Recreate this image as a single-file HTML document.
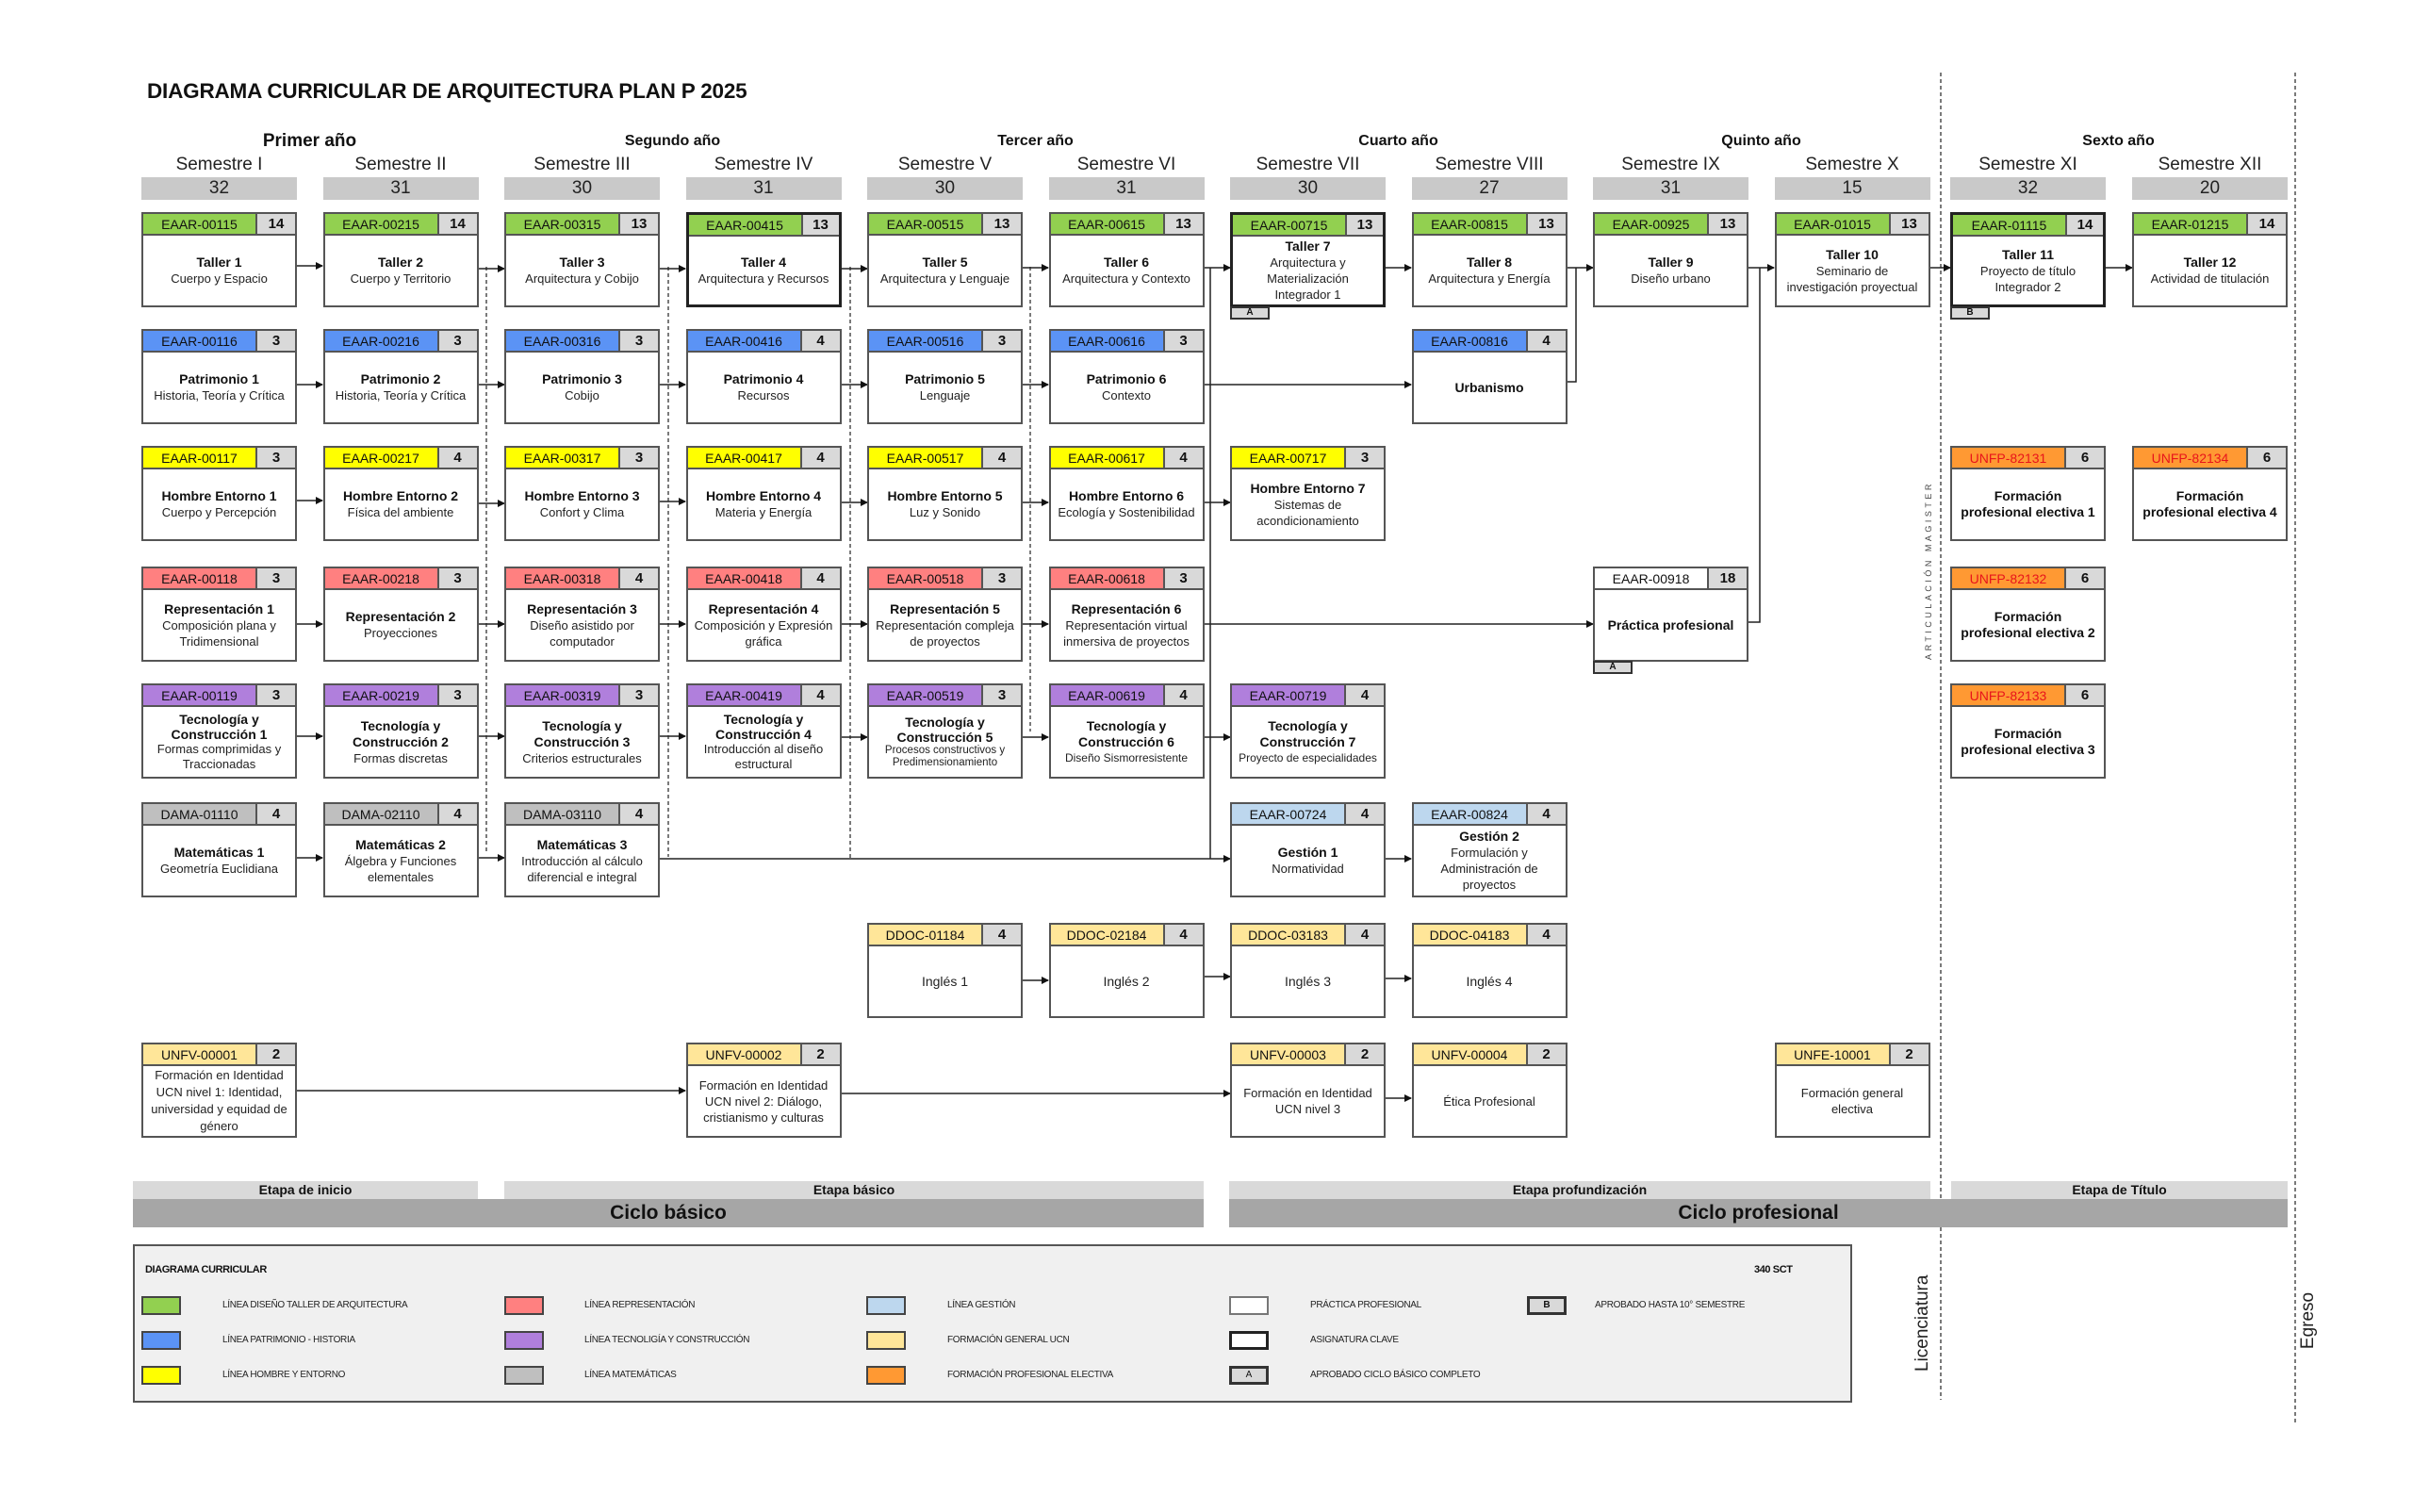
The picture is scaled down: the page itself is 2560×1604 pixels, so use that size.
<!DOCTYPE html>
<html><head><meta charset="utf-8">
<style>
*{margin:0;padding:0;box-sizing:border-box}
body{width:2560px;height:1604px;background:#fff;position:relative;font-family:"Liberation Sans",sans-serif;color:#111;overflow:hidden}
.a{position:absolute}
.b{position:absolute;width:165px;height:101px;border:2px solid #555;background:#fff}
.b.k{border:3px solid #222}
.h{height:23px;display:flex;border-bottom:2px solid #555;font-size:14px}
.h .c{width:121px;border-right:2px solid #555;text-align:center;line-height:22px}
.h .n{flex:1;background:#d9d9d9;text-align:center;font-weight:bold;line-height:21px;font-size:15px}
.bd{height:74px;display:flex;flex-direction:column;justify-content:center;align-items:center;text-align:center;font-size:13px;line-height:17px;color:#222;padding:0 2px}
.bd b{font-size:14px;color:#111}
.k .bd{height:72px}
.g{background:#92d050}.bl{background:#5b93f5}.y{background:#ffff00}.r{background:#ff8080}.p{background:#b07fdc}.m{background:#bfbfbf}.lb{background:#bdd7ee}.ly{background:#ffe699}.o{background:#ff9933;color:#e8141b}.w{background:#fff}
.yr{position:absolute;top:141px;font-weight:bold;font-size:16px;text-align:center;width:357px}
.sm{position:absolute;top:164px;width:165px;text-align:center;font-size:19px;color:#222}
.nb{position:absolute;top:188px;height:24px;width:165px;background:#c9c9c9;text-align:center;font-size:19px;line-height:24px;color:#222}
.tag{position:absolute;width:42px;height:14px;background:#d9d9d9;border:2px solid #333;font-size:10px;font-weight:bold;text-align:center;line-height:10px}
.et{position:absolute;top:1253px;height:19px;background:#d9d9d9;font-weight:bold;font-size:14px;text-align:center;line-height:19px}
.cy{position:absolute;top:1272px;height:30px;background:#a6a6a6;font-weight:bold;font-size:21px;text-align:center;line-height:30px}
.sw{position:absolute;width:42px;height:20px;border:2px solid #444}
.lt{position:absolute;font-size:10px;letter-spacing:-0.3px;color:#222;line-height:20px}
</style></head><body>
<div class="a" style="left:156px;top:84px;font-size:22.5px;font-weight:bold;letter-spacing:-0.2px">DIAGRAMA CURRICULAR DE ARQUITECTURA PLAN P 2025</div>

<div class="yr" style="left:150px;font-size:19px;top:139px">Primer año</div>
<div class="yr" style="left:535px">Segundo año</div>
<div class="yr" style="left:920px">Tercer año</div>
<div class="yr" style="left:1305px">Cuarto año</div>
<div class="yr" style="left:1690px">Quinto año</div>
<div class="yr" style="left:2069px">Sexto año</div>

<div class="sm" style="left:150px">Semestre I</div><div class="nb" style="left:150px">32</div>
<div class="sm" style="left:342.5px">Semestre II</div><div class="nb" style="left:342.5px">31</div>
<div class="sm" style="left:535px">Semestre III</div><div class="nb" style="left:535px">30</div>
<div class="sm" style="left:727.5px">Semestre IV</div><div class="nb" style="left:727.5px">31</div>
<div class="sm" style="left:920px">Semestre V</div><div class="nb" style="left:920px">30</div>
<div class="sm" style="left:1112.5px">Semestre VI</div><div class="nb" style="left:1112.5px">31</div>
<div class="sm" style="left:1305px">Semestre VII</div><div class="nb" style="left:1305px">30</div>
<div class="sm" style="left:1497.5px">Semestre VIII</div><div class="nb" style="left:1497.5px">27</div>
<div class="sm" style="left:1690px">Semestre IX</div><div class="nb" style="left:1690px">31</div>
<div class="sm" style="left:1882.5px">Semestre X</div><div class="nb" style="left:1882.5px">15</div>
<div class="sm" style="left:2069px">Semestre XI</div><div class="nb" style="left:2069px">32</div>
<div class="sm" style="left:2262px">Semestre XII</div><div class="nb" style="left:2262px">20</div>

<svg class="a" style="left:0;top:0" width="2560" height="1604">
<defs><marker id="ar" markerWidth="8" markerHeight="8" refX="7" refY="4" orient="auto" markerUnits="userSpaceOnUse"><path d="M0,0L8,4L0,8z" fill="#111"/></marker></defs>
<g stroke="#333" stroke-width="1.3" fill="none" stroke-dasharray="4,3">
<line x1="516" y1="283" x2="516" y2="905"/>
<line x1="709" y1="283" x2="709" y2="909"/>
<line x1="902" y1="283" x2="902" y2="911"/>
<line x1="1093" y1="283" x2="1093" y2="776"/>
<line x1="2059" y1="77" x2="2059" y2="1485"/>
<line x1="2435" y1="77" x2="2435" y2="1510"/>
</g>
<g stroke="#222" stroke-width="1.5" fill="none" marker-end="url(#ar)">
<line x1="315" y1="282" x2="342" y2="282"/><line x1="507" y1="285" x2="535" y2="285"/><line x1="700" y1="285" x2="727" y2="285"/><line x1="892" y1="285" x2="920" y2="285"/><line x1="1085" y1="284" x2="1112" y2="284"/><line x1="1277" y1="284" x2="1305" y2="284"/><line x1="1470" y1="284" x2="1497" y2="284"/><line x1="1662" y1="284" x2="1690" y2="284"/><line x1="1855" y1="284" x2="1882" y2="284"/><line x1="2047" y1="284" x2="2069" y2="284"/><line x1="2234" y1="284" x2="2262" y2="284"/>
<line x1="315" y1="408" x2="342" y2="408"/><line x1="507" y1="408" x2="535" y2="408"/><line x1="700" y1="408" x2="727" y2="408"/><line x1="892" y1="408" x2="920" y2="408"/><line x1="1085" y1="408" x2="1112" y2="408"/><line x1="1277" y1="408" x2="1497" y2="408"/>
<line x1="315" y1="531" x2="342" y2="531"/><line x1="507" y1="534" x2="535" y2="534"/><line x1="700" y1="532" x2="727" y2="532"/><line x1="892" y1="533" x2="920" y2="533"/><line x1="1085" y1="533" x2="1112" y2="533"/><line x1="1277" y1="533" x2="1305" y2="533"/>
<line x1="315" y1="662" x2="342" y2="662"/><line x1="507" y1="662" x2="535" y2="662"/><line x1="700" y1="662" x2="727" y2="662"/><line x1="892" y1="662" x2="920" y2="662"/><line x1="1085" y1="662" x2="1112" y2="662"/><line x1="1277" y1="662" x2="1690" y2="662"/>
<line x1="315" y1="781" x2="342" y2="781"/><line x1="507" y1="781" x2="535" y2="781"/><line x1="700" y1="781" x2="727" y2="781"/><line x1="892" y1="782" x2="920" y2="782"/><line x1="1085" y1="782" x2="1112" y2="782"/><line x1="1277" y1="782" x2="1305" y2="782"/>
<line x1="315" y1="910" x2="342" y2="910"/><line x1="507" y1="910" x2="535" y2="910"/><line x1="700" y1="911" x2="1305" y2="911"/><line x1="1470" y1="911" x2="1497" y2="911"/>
<line x1="1085" y1="1040" x2="1112" y2="1040"/><line x1="1277" y1="1036" x2="1305" y2="1036"/><line x1="1470" y1="1038" x2="1497" y2="1038"/>
<line x1="315" y1="1157" x2="727" y2="1157"/><line x1="892" y1="1160" x2="1305" y2="1160"/><line x1="1470" y1="1165" x2="1497" y2="1165"/>
</g>
<g stroke="#222" stroke-width="1.5" fill="none">
<line x1="1284" y1="284" x2="1284" y2="911"/>
<polyline points="1662,405 1672,405 1672,284"/>
<polyline points="1855,660 1867,660 1867,284"/>
</g>
</svg>

<!-- Row 1 -->
<div class="b" style="left:150px;top:225px"><div class="h"><div class="c g">EAAR-00115</div><div class="n">14</div></div><div class="bd"><b>Taller 1</b>Cuerpo y Espacio</div></div>
<div class="b" style="left:342.5px;top:225px"><div class="h"><div class="c g">EAAR-00215</div><div class="n">14</div></div><div class="bd"><b>Taller 2</b>Cuerpo y Territorio</div></div>
<div class="b" style="left:535px;top:225px"><div class="h"><div class="c g">EAAR-00315</div><div class="n">13</div></div><div class="bd"><b>Taller 3</b>Arquitectura y Cobijo</div></div>
<div class="b k" style="left:727.5px;top:225px"><div class="h"><div class="c g">EAAR-00415</div><div class="n">13</div></div><div class="bd"><b>Taller 4</b>Arquitectura y Recursos</div></div>
<div class="b" style="left:920px;top:225px"><div class="h"><div class="c g">EAAR-00515</div><div class="n">13</div></div><div class="bd"><b>Taller 5</b>Arquitectura y Lenguaje</div></div>
<div class="b" style="left:1112.5px;top:225px"><div class="h"><div class="c g">EAAR-00615</div><div class="n">13</div></div><div class="bd"><b>Taller 6</b>Arquitectura y Contexto</div></div>
<div class="b k" style="left:1305px;top:225px"><div class="h"><div class="c g">EAAR-00715</div><div class="n">13</div></div><div class="bd"><b>Taller 7</b>Arquitectura y<br>Materialización<br>Integrador 1</div></div>
<div class="tag" style="left:1305px;top:325px">A</div>
<div class="b" style="left:1497.5px;top:225px"><div class="h"><div class="c g">EAAR-00815</div><div class="n">13</div></div><div class="bd"><b>Taller 8</b>Arquitectura y Energía</div></div>
<div class="b" style="left:1690px;top:225px"><div class="h"><div class="c g">EAAR-00925</div><div class="n">13</div></div><div class="bd"><b>Taller 9</b>Diseño urbano</div></div>
<div class="b" style="left:1882.5px;top:225px"><div class="h"><div class="c g">EAAR-01015</div><div class="n">13</div></div><div class="bd"><b>Taller 10</b>Seminario de<br>investigación proyectual</div></div>
<div class="b k" style="left:2069px;top:225px"><div class="h"><div class="c g">EAAR-01115</div><div class="n">14</div></div><div class="bd"><b>Taller 11</b>Proyecto de título<br>Integrador 2</div></div>
<div class="tag" style="left:2069px;top:325px">B</div>
<div class="b" style="left:2262px;top:225px"><div class="h"><div class="c g">EAAR-01215</div><div class="n">14</div></div><div class="bd"><b>Taller 12</b>Actividad de titulación</div></div>

<!-- Row 2 -->
<div class="b" style="left:150px;top:349px"><div class="h"><div class="c bl">EAAR-00116</div><div class="n">3</div></div><div class="bd"><b>Patrimonio 1</b>Historia, Teoría y Crítica</div></div>
<div class="b" style="left:342.5px;top:349px"><div class="h"><div class="c bl">EAAR-00216</div><div class="n">3</div></div><div class="bd"><b>Patrimonio 2</b>Historia, Teoría y Crítica</div></div>
<div class="b" style="left:535px;top:349px"><div class="h"><div class="c bl">EAAR-00316</div><div class="n">3</div></div><div class="bd"><b>Patrimonio 3</b>Cobijo</div></div>
<div class="b" style="left:727.5px;top:349px"><div class="h"><div class="c bl">EAAR-00416</div><div class="n">4</div></div><div class="bd"><b>Patrimonio 4</b>Recursos</div></div>
<div class="b" style="left:920px;top:349px"><div class="h"><div class="c bl">EAAR-00516</div><div class="n">3</div></div><div class="bd"><b>Patrimonio 5</b>Lenguaje</div></div>
<div class="b" style="left:1112.5px;top:349px"><div class="h"><div class="c bl">EAAR-00616</div><div class="n">3</div></div><div class="bd"><b>Patrimonio 6</b>Contexto</div></div>
<div class="b" style="left:1497.5px;top:349px"><div class="h"><div class="c bl">EAAR-00816</div><div class="n">4</div></div><div class="bd"><b>Urbanismo</b></div></div>

<!-- Row 3 -->
<div class="b" style="left:150px;top:473px"><div class="h"><div class="c y">EAAR-00117</div><div class="n">3</div></div><div class="bd"><b>Hombre Entorno 1</b>Cuerpo y Percepción</div></div>
<div class="b" style="left:342.5px;top:473px"><div class="h"><div class="c y">EAAR-00217</div><div class="n">4</div></div><div class="bd"><b>Hombre Entorno 2</b>Física del ambiente</div></div>
<div class="b" style="left:535px;top:473px"><div class="h"><div class="c y">EAAR-00317</div><div class="n">3</div></div><div class="bd"><b>Hombre Entorno 3</b>Confort y Clima</div></div>
<div class="b" style="left:727.5px;top:473px"><div class="h"><div class="c y">EAAR-00417</div><div class="n">4</div></div><div class="bd"><b>Hombre Entorno 4</b>Materia y Energía</div></div>
<div class="b" style="left:920px;top:473px"><div class="h"><div class="c y">EAAR-00517</div><div class="n">4</div></div><div class="bd"><b>Hombre Entorno 5</b>Luz y Sonido</div></div>
<div class="b" style="left:1112.5px;top:473px"><div class="h"><div class="c y">EAAR-00617</div><div class="n">4</div></div><div class="bd"><b>Hombre Entorno 6</b>Ecología y Sostenibilidad</div></div>
<div class="b" style="left:1305px;top:473px"><div class="h"><div class="c y">EAAR-00717</div><div class="n">3</div></div><div class="bd"><b>Hombre Entorno 7</b>Sistemas de<br>acondicionamiento</div></div>
<div class="b" style="left:2069px;top:473px"><div class="h"><div class="c o">UNFP-82131</div><div class="n">6</div></div><div class="bd"><b>Formación<br>profesional electiva 1</b></div></div>
<div class="b" style="left:2262px;top:473px"><div class="h"><div class="c o">UNFP-82134</div><div class="n">6</div></div><div class="bd"><b>Formación<br>profesional electiva 4</b></div></div>

<!-- Row 4 -->
<div class="b" style="left:150px;top:601px"><div class="h"><div class="c r">EAAR-00118</div><div class="n">3</div></div><div class="bd"><b>Representación 1</b>Composición plana y<br>Tridimensional</div></div>
<div class="b" style="left:342.5px;top:601px"><div class="h"><div class="c r">EAAR-00218</div><div class="n">3</div></div><div class="bd"><b>Representación 2</b>Proyecciones</div></div>
<div class="b" style="left:535px;top:601px"><div class="h"><div class="c r">EAAR-00318</div><div class="n">4</div></div><div class="bd"><b>Representación 3</b>Diseño asistido por<br>computador</div></div>
<div class="b" style="left:727.5px;top:601px"><div class="h"><div class="c r">EAAR-00418</div><div class="n">4</div></div><div class="bd"><b>Representación 4</b>Composición y Expresión<br>gráfica</div></div>
<div class="b" style="left:920px;top:601px"><div class="h"><div class="c r">EAAR-00518</div><div class="n">3</div></div><div class="bd"><b>Representación 5</b>Representación compleja<br>de proyectos</div></div>
<div class="b" style="left:1112.5px;top:601px"><div class="h"><div class="c r">EAAR-00618</div><div class="n">3</div></div><div class="bd"><b>Representación 6</b>Representación virtual<br>inmersiva de proyectos</div></div>
<div class="b" style="left:1690px;top:601px"><div class="h"><div class="c w">EAAR-00918</div><div class="n">18</div></div><div class="bd"><b>Práctica profesional</b></div></div>
<div class="tag" style="left:1690px;top:701px">A</div>
<div class="b" style="left:2069px;top:601px"><div class="h"><div class="c o">UNFP-82132</div><div class="n">6</div></div><div class="bd"><b>Formación<br>profesional electiva 2</b></div></div>

<!-- Row 5 -->
<div class="b" style="left:150px;top:725px"><div class="h"><div class="c p">EAAR-00119</div><div class="n">3</div></div><div class="bd" style="line-height:16px"><b>Tecnología y<br>Construcción 1</b>Formas comprimidas y<br>Traccionadas</div></div>
<div class="b" style="left:342.5px;top:725px"><div class="h"><div class="c p">EAAR-00219</div><div class="n">3</div></div><div class="bd"><b>Tecnología y<br>Construcción 2</b>Formas discretas</div></div>
<div class="b" style="left:535px;top:725px"><div class="h"><div class="c p">EAAR-00319</div><div class="n">3</div></div><div class="bd"><b>Tecnología y<br>Construcción 3</b>Criterios estructurales</div></div>
<div class="b" style="left:727.5px;top:725px"><div class="h"><div class="c p">EAAR-00419</div><div class="n">4</div></div><div class="bd" style="line-height:16px"><b>Tecnología y<br>Construcción 4</b>Introducción al diseño<br>estructural</div></div>
<div class="b" style="left:920px;top:725px"><div class="h"><div class="c p">EAAR-00519</div><div class="n">3</div></div><div class="bd" style="line-height:16px"><b>Tecnología y<br>Construcción 5</b><span style="font-size:11.5px;line-height:13px">Procesos constructivos y<br>Predimensionamiento</span></div></div>
<div class="b" style="left:1112.5px;top:725px"><div class="h"><div class="c p">EAAR-00619</div><div class="n">4</div></div><div class="bd"><b>Tecnología y<br>Construcción 6</b><span style="font-size:12px">Diseño Sismorresistente</span></div></div>
<div class="b" style="left:1305px;top:725px"><div class="h"><div class="c p">EAAR-00719</div><div class="n">4</div></div><div class="bd"><b>Tecnología y<br>Construcción 7</b><span style="font-size:12px">Proyecto de especialidades</span></div></div>
<div class="b" style="left:2069px;top:725px"><div class="h"><div class="c o">UNFP-82133</div><div class="n">6</div></div><div class="bd"><b>Formación<br>profesional electiva 3</b></div></div>

<!-- Row 6 -->
<div class="b" style="left:150px;top:851px"><div class="h"><div class="c m">DAMA-01110</div><div class="n">4</div></div><div class="bd"><b>Matemáticas 1</b>Geometría Euclidiana</div></div>
<div class="b" style="left:342.5px;top:851px"><div class="h"><div class="c m">DAMA-02110</div><div class="n">4</div></div><div class="bd"><b>Matemáticas 2</b>Álgebra y Funciones<br>elementales</div></div>
<div class="b" style="left:535px;top:851px"><div class="h"><div class="c m">DAMA-03110</div><div class="n">4</div></div><div class="bd"><b>Matemáticas 3</b>Introducción al cálculo<br>diferencial e integral</div></div>
<div class="b" style="left:1305px;top:851px"><div class="h"><div class="c lb">EAAR-00724</div><div class="n">4</div></div><div class="bd"><b>Gestión 1</b>Normatividad</div></div>
<div class="b" style="left:1497.5px;top:851px"><div class="h"><div class="c lb">EAAR-00824</div><div class="n">4</div></div><div class="bd"><b>Gestión 2</b>Formulación y<br>Administración de<br>proyectos</div></div>

<!-- Row 7 -->
<div class="b" style="left:920px;top:979px"><div class="h"><div class="c ly">DDOC-01184</div><div class="n">4</div></div><div class="bd" style="font-size:14px">Inglés 1</div></div>
<div class="b" style="left:1112.5px;top:979px"><div class="h"><div class="c ly">DDOC-02184</div><div class="n">4</div></div><div class="bd" style="font-size:14px">Inglés 2</div></div>
<div class="b" style="left:1305px;top:979px"><div class="h"><div class="c ly">DDOC-03183</div><div class="n">4</div></div><div class="bd" style="font-size:14px">Inglés 3</div></div>
<div class="b" style="left:1497.5px;top:979px"><div class="h"><div class="c ly">DDOC-04183</div><div class="n">4</div></div><div class="bd" style="font-size:14px">Inglés 4</div></div>

<!-- Row 8 -->
<div class="b" style="left:150px;top:1106px"><div class="h"><div class="c ly">UNFV-00001</div><div class="n">2</div></div><div class="bd" style="line-height:18px;font-size:13px">Formación en Identidad<br>UCN nivel 1: Identidad,<br>universidad y equidad de<br>género</div></div>
<div class="b" style="left:727.5px;top:1106px"><div class="h"><div class="c ly">UNFV-00002</div><div class="n">2</div></div><div class="bd">Formación en Identidad<br>UCN nivel 2: Diálogo,<br>cristianismo y culturas</div></div>
<div class="b" style="left:1305px;top:1106px"><div class="h"><div class="c ly">UNFV-00003</div><div class="n">2</div></div><div class="bd">Formación en Identidad<br>UCN nivel 3</div></div>
<div class="b" style="left:1497.5px;top:1106px"><div class="h"><div class="c ly">UNFV-00004</div><div class="n">2</div></div><div class="bd">Ética Profesional</div></div>
<div class="b" style="left:1882.5px;top:1106px"><div class="h"><div class="c ly">UNFE-10001</div><div class="n">2</div></div><div class="bd">Formación general<br>electiva</div></div>

<!-- Bottom bars -->
<div class="et" style="left:141px;width:366px">Etapa de inicio</div>
<div class="et" style="left:535px;width:742px">Etapa básico</div>
<div class="et" style="left:1304px;width:744px">Etapa profundización</div>
<div class="et" style="left:2070px;width:357px">Etapa de Título</div>
<div class="cy" style="left:141px;width:1136px">Ciclo básico</div>
<div class="cy" style="left:1304px;width:1123px">Ciclo profesional</div>

<!-- Legend -->
<div class="a" style="left:141px;top:1320px;width:1824px;height:168px;background:#f0f0f0;border:2px solid #555"></div>
<div class="a" style="left:154px;top:1341px;font-size:11px;font-weight:bold;letter-spacing:-0.4px">DIAGRAMA CURRICULAR</div>
<div class="a" style="left:1861px;top:1341px;font-size:11px;font-weight:bold;letter-spacing:-0.4px">340 SCT</div>

<div class="sw g" style="left:150px;top:1375px"></div><div class="lt" style="left:236px;top:1375px">LÍNEA DISEÑO TALLER DE ARQUITECTURA</div>
<div class="sw bl" style="left:150px;top:1412px"></div><div class="lt" style="left:236px;top:1412px">LÍNEA PATRIMONIO - HISTORIA</div>
<div class="sw y" style="left:150px;top:1449px"></div><div class="lt" style="left:236px;top:1449px">LÍNEA HOMBRE Y ENTORNO</div>
<div class="sw r" style="left:535px;top:1375px"></div><div class="lt" style="left:620px;top:1375px">LÍNEA REPRESENTACIÓN</div>
<div class="sw p" style="left:535px;top:1412px"></div><div class="lt" style="left:620px;top:1412px">LÍNEA TECNOLIGÍA Y CONSTRUCCIÓN</div>
<div class="sw m" style="left:535px;top:1449px"></div><div class="lt" style="left:620px;top:1449px">LÍNEA MATEMÁTICAS</div>
<div class="sw lb" style="left:919px;top:1375px"></div><div class="lt" style="left:1005px;top:1375px">LÍNEA GESTIÓN</div>
<div class="sw ly" style="left:919px;top:1412px"></div><div class="lt" style="left:1005px;top:1412px">FORMACIÓN GENERAL UCN</div>
<div class="sw" style="left:919px;top:1449px;background:#ff9933"></div><div class="lt" style="left:1005px;top:1449px">FORMACIÓN PROFESIONAL ELECTIVA</div>
<div class="sw w" style="left:1304px;top:1375px;border-color:#777"></div><div class="lt" style="left:1390px;top:1375px">PRÁCTICA PROFESIONAL</div>
<div class="sw w" style="left:1304px;top:1412px;border:3px solid #222"></div><div class="lt" style="left:1390px;top:1412px">ASIGNATURA CLAVE</div>
<div class="sw" style="left:1304px;top:1449px;background:#d9d9d9;border:3px solid #333;font-size:10px;text-align:center;line-height:14px">A</div><div class="lt" style="left:1390px;top:1449px">APROBADO CICLO BÁSICO COMPLETO</div>
<div class="sw" style="left:1620px;top:1375px;background:#d9d9d9;border:3px solid #333;font-size:10px;text-align:center;line-height:14px;font-weight:bold">B</div><div class="lt" style="left:1692px;top:1375px">APROBADO HASTA 10° SEMESTRE</div>

<!-- Vertical texts -->
<div class="a" style="left:1990px;top:1394px;width:100px;text-align:center;font-size:19px;transform:rotate(-90deg);color:#222">Licenciatura</div>
<div class="a" style="left:2409px;top:1390px;width:80px;text-align:center;font-size:19px;transform:rotate(-90deg);color:#222">Egreso</div>
<div class="a" style="left:1946px;top:600px;width:200px;text-align:center;font-size:9px;letter-spacing:3.5px;transform:rotate(-90deg);color:#444">ARTICULACIÓN MAGISTER</div>
</body></html>
